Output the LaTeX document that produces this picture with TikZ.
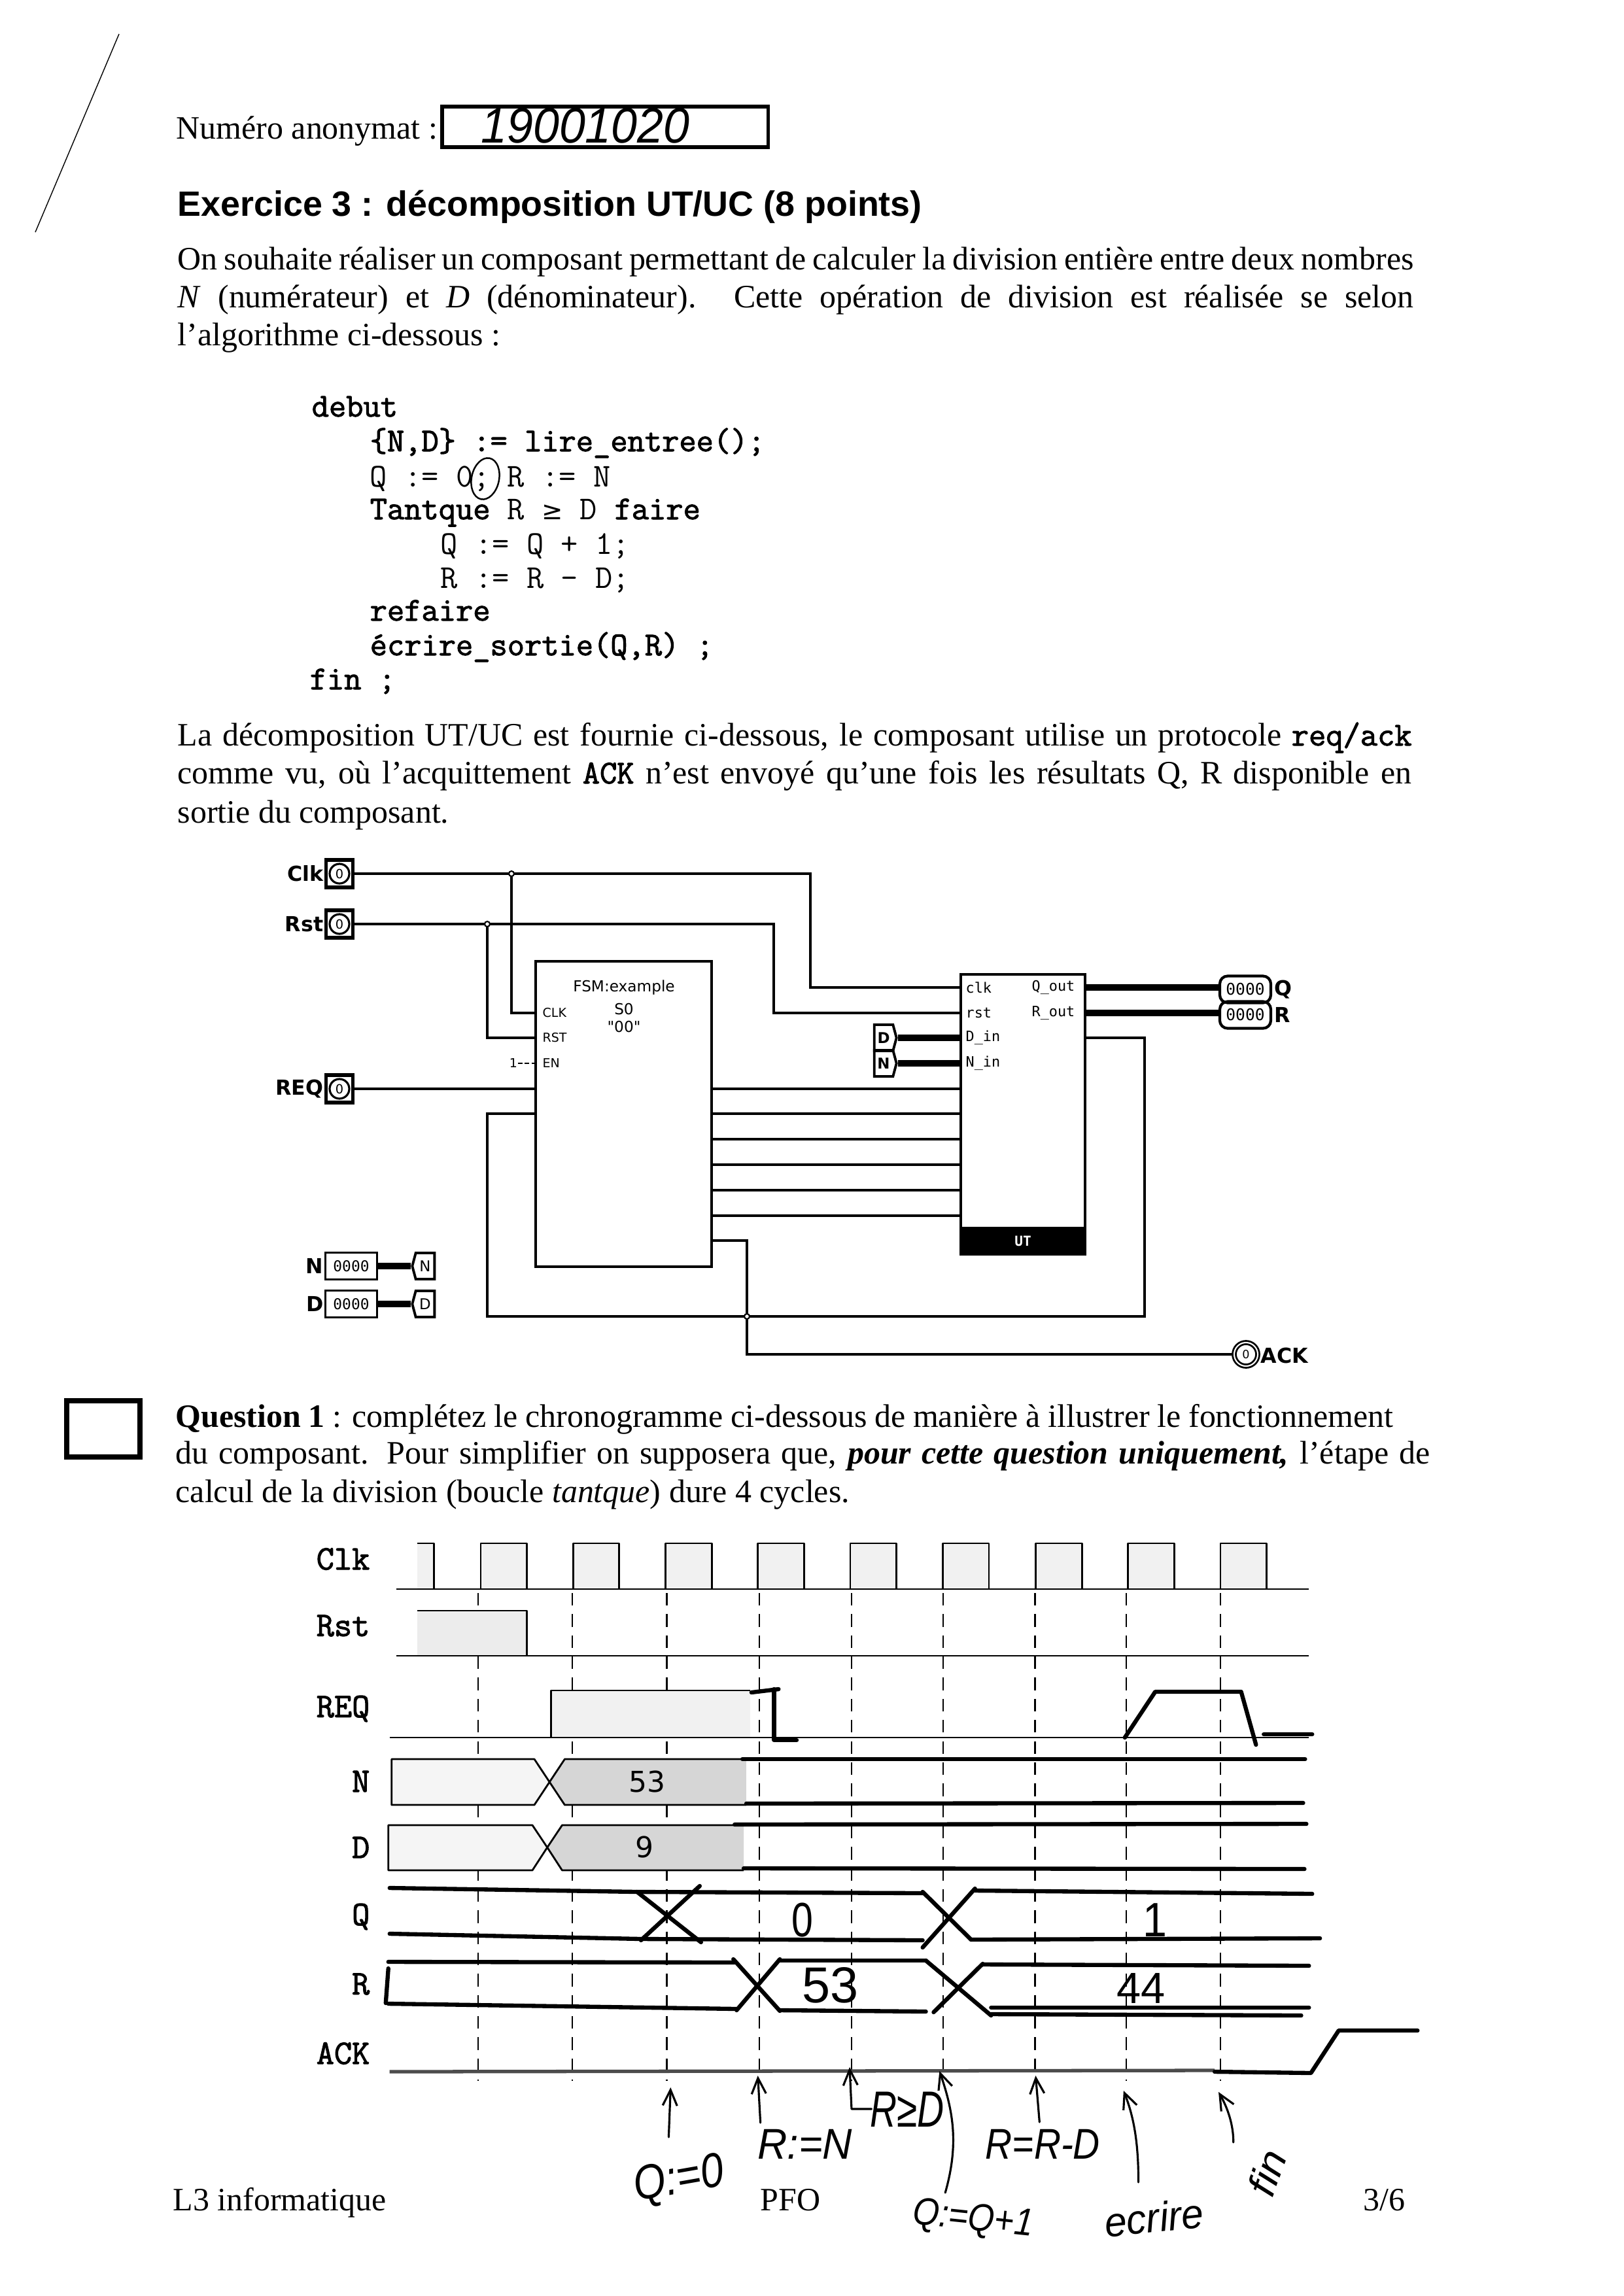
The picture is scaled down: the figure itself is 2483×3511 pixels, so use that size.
\documentclass[tikz,border=0pt]{standalone}
\usepackage{fontspec}
\setmainfont{Liberation Serif}
\setsansfont{Liberation Sans}
\newfontfamily\dvs{DejaVu Sans}
\newfontfamily\dvm{DejaVu Sans Mono}
\newfontfamily\ttb{Latin Modern Mono}[FakeBold=2]
\usetikzlibrary{arrows.meta,shapes.symbols,shapes.geometric}
\newcommand{\fsz}[1]{\fontsize{#1}{#1}\selectfont}
\newcommand{\jl}[2]{\makebox[#1][s]{#2}}
\newcommand{\hwt}[4]{\scalebox{#1}[#2]{\sffamily\itshape\fsz{#3}#4}}
\newcommand{\hwu}[4]{\scalebox{#1}[#2]{\sffamily\fsz{#3}#4}}
\newcommand{\ttm}[1]{{\ttb\fsz{14.5}#1}}
\tikzset{
 body/.style={anchor=base west,inner sep=0pt,font=\rmfamily\fsz{14.2}},
 code/.style={anchor=base west,inner sep=0pt,font=\ttfamily\fsz{14.5}},
 codeb/.style={anchor=base west,inner sep=0pt,font=\ttb\fsz{14.5}},
 wave/.style={line width=0.8pt,line join=round},
 tlab/.style={anchor=east,inner sep=0pt,font=\ttb\fsz{15}},
 hline/.style={line width=1.8pt,line cap=round,line join=round},
 hthin/.style={line width=0.9pt,line cap=round,line join=round},
 harrow/.style={hthin,-{Straight Barb[length=2.4mm,width=2.2mm]}},
 hand/.style={inner sep=0pt},
 wire/.style={line width=1.4pt,line join=miter},
 bus/.style={line width=2.6pt},
 blk/.style={draw,line width=1.3pt,inner sep=0pt,fill=white},
 bit/.style={draw,line width=1.5pt,minimum width=4.1mm,minimum height=4.2mm,inner sep=0pt,
   font=\dvs\fsz{5.5},path picture={\draw[line width=0.9pt] (path picture bounding box.center) circle [radius=1.5mm];}},
 word/.style={draw,line width=1.1pt,minimum width=7.9mm,minimum height=4.1mm,inner sep=0pt,font=\dvm\fsz{6.5}},
 pill/.style={draw,line width=1.2pt,rounded corners=1.2mm,minimum width=7.8mm,minimum height=4.1mm,inner sep=0pt,font=\dvm\fsz{7}},
 tagr/.style={draw,line width=1.1pt,signal,signal to=east,signal pointer angle=150,minimum width=3.4mm,minimum height=4mm,inner xsep=1.2pt,inner ysep=0.5pt,font=\dvs\bfseries\fsz{6.5}},
 tagl/.style={draw,line width=1.1pt,signal,signal to=west,signal pointer angle=150,minimum width=3.4mm,minimum height=4mm,inner xsep=1.2pt,inner ysep=0.5pt,font=\dvs\fsz{6.5}},
 sch/.style={inner sep=0pt,font=\dvs\bfseries\fsz{9}},
 port/.style={inner sep=0pt,font=\dvm\fsz{6.2}},
 fport/.style={inner sep=0pt,font=\dvs\fsz{5.4}},
 ftitle/.style={inner sep=0pt,font=\dvs\fsz{6.6}},
}
\begin{document}
\begin{tikzpicture}[x=0.01cm,y=-0.01cm]
\useasboundingbox (0,0) rectangle (2483,3511);
\fill[white] (0,0) rectangle (2483,3511);
% margin stroke
\draw[line width=0.4pt] (182,52) -- (54,355);
% header
\node[body] (num) at (269,212) {Numéro anonymat :};
\node[draw,line width=1.5pt,minimum width=49.8mm,minimum height=6.2mm,inner sep=0pt] (numbox) at (925,194) {};
\node[hand] (numval) at (895,192) {\hwt{.85}{.9}{24}{19001020}};
\node[anchor=base west,inner sep=0pt,font=\sffamily\bfseries\fsz{15.3}] (title) at (271,330) {Exercice 3 : décomposition UT/UC (8 points)};
% paragraph 1
\node[body] (p1a) at (271,412) {\jl{1889\dimexpr 0.2845pt}{On souhaite réaliser un composant permettant de calculer la division entière entre deux nombres}};
\node[body] (p1b) at (271,470) {\jl{1889\dimexpr 0.2845pt}{\textit{N} (numérateur) et \textit{D} (dénominateur). Cette opération de division est réalisée se selon}};
\node[body] (p1c) at (271,528) {l’algorithme ci-dessous :};
% code
\node[codeb] (c1) at (476,637) {debut};
\node[codeb] (c2) at (565,690) {\{N,D\} := lire\_entree();};
\node[code] (c3) at (565,744) {Q := 0; R := N};
\node[code] (c4) at (565,794) {{\ttb Tantque} R {\dvs\fsz{11}≥} D {\ttb faire}};
\node[code] (c5) at (673,847) {Q := Q + 1;};
\node[code] (c6) at (673,899) {R := R - D;};
\node[codeb] (c7) at (565,949) {refaire};
\node[codeb] (c8) at (565,1002) {écrire\_sortie(Q,R) ;};
\node[codeb] (c9) at (473,1054) {fin ;};
\draw[line width=0.7pt,rotate around={-12:(742,732)}] (742,732) ellipse [x radius=21,y radius=32];
% paragraph 2
\node[body] (p2a) at (271,1140) {\jl{1886\dimexpr 0.2845pt}{La décomposition UT/UC est fournie ci-dessous, le composant utilise un protocole \ttm{req/ack}}};
\node[body] (p2b) at (271,1198) {\jl{1886\dimexpr 0.2845pt}{comme vu, où l’acquittement \ttm{ACK} n’est envoyé qu’une fois les résultats Q, R disponible en}};
\node[body] (p2c) at (271,1258) {sortie du composant.};
% ---- schematic ----
\node[blk,minimum width=26.9mm,minimum height=46.7mm] (fsm) at (953.5,1703.5) {};
\node[blk,minimum width=19mm,minimum height=42.8mm] (ut) at (1564,1704) {};
\node[draw,line width=1pt,fill=black,text=white,minimum width=19mm,minimum height=4mm,inner sep=0pt,font=\dvm\bfseries\fsz{6}] (utband) at (1564,1898) {UT};
\node[ftitle] (ft1) at (954,1510) {FSM:example};
\node[ftitle] (ft2) at (954,1543) {S0};
\node[ftitle] (ft3) at (954,1570) {"00"};
\node[fport,anchor=west] (fclk) at (829,1549) {CLK};
\node[fport,anchor=west] (frst) at (829,1587) {RST};
\node[fport,anchor=west] (fen) at (829,1626) {EN};
\node[fport] (fone) at (785,1626) {1};
\node[port,anchor=west] (uclk) at (1476,1510) {clk};
\node[port,anchor=west] (urst) at (1476,1549) {rst};
\node[port,anchor=west] (udin) at (1476,1587) {D\_in};
\node[port,anchor=west] (unin) at (1476,1626) {N\_in};
\node[port,anchor=east] (uq) at (1644,1510) {Q\_out};
\node[port,anchor=east] (ur) at (1644,1549) {R\_out};
% inputs
\node[bit] (bclk) at (519,1336) {0};
\node[bit] (brst) at (519,1413) {0};
\node[bit] (breq) at (519,1665) {0};
\node[sch,anchor=east] (lclk) at (495,1336) {Clk};
\node[sch,anchor=east] (lrst) at (495,1413) {Rst};
\node[sch,anchor=east] (lreq) at (495,1665) {REQ};
\node[word] (wn) at (537,1936) {0000};
\node[word] (wd) at (537,1994) {0000};
\node[sch,anchor=east] (ln) at (495,1936) {N};
\node[sch,anchor=east] (ld) at (495,1994) {D};
\node[tagl] (tn) at (650,1936) {N};
\node[tagl] (td) at (650,1994) {D};
\node[tagr] (tgd) at (1351,1587) {D};
\node[tagr] (tgn) at (1351,1626) {N};
\node[pill] (pq) at (1904,1513) {0000};
\node[pill] (pr) at (1904,1552) {0000};
\node[sch,anchor=west] (lq) at (1948,1513) {Q};
\node[sch,anchor=west] (lr) at (1948,1552) {R};
\node[circle,draw,double,line width=0.8pt,inner sep=0pt,minimum size=3.6mm,font=\dvs\fsz{5}] (back) at (1905,2071) {0};
\node[sch,anchor=west] (lack) at (1927,2073) {ACK};
% junctions and bends
\coordinate (jclk) at (782,1336);
\coordinate (jrst) at (745,1413);
\coordinate (jfb) at (1142,2013);
\coordinate (fclkp) at (819,1549);
\coordinate (frstp) at (819,1587);
\coordinate (fenp) at (819,1626);
\coordinate (freqp) at (819,1665);
\coordinate (ffbp) at (819,1703);
\coordinate (fack) at (1088,1897);
\coordinate (uclkp) at (1469,1510);
\coordinate (urstp) at (1469,1549);
\coordinate (udp) at (1469,1587);
\coordinate (unp) at (1469,1626);
\coordinate (uqp) at (1659,1510);
\coordinate (urp) at (1659,1549);
\coordinate (ufb) at (1659,1587);
\draw[wire] (bclk.east) -- (jclk) -- (1239,1336) -- (1239,1510) -- (uclkp);
\draw[wire] (brst.east) -- (jrst) -- (1183,1413) -- (1183,1549) -- (urstp);
\draw[wire] (jclk) -- (782,1549) -- (fclkp);
\draw[wire] (jrst) -- (745,1587) -- (frstp);
\draw[line width=0.4pt,dash pattern=on 2pt off 1pt] (fone.east) -- (fenp);
\draw[wire] (breq.east) -- (freqp);
\draw[wire] (ffbp) -- (745,1703) -- (745,2013) -- (jfb) -- (1750,2013) -- (1750,1587) -- (ufb);
\draw[wire] (fack) -- (1142,1897) -- (jfb) -- (1142,2071) -- (back.west);
\foreach \yy in {1665,1703,1742,1781,1820,1859} \draw[wire] (1088,\yy) -- (1469,\yy);
\draw[bus] (tgd.east) -- (udp);
\draw[bus] (tgn.east) -- (unp);
\draw[bus] (wn.east) -- (tn.west);
\draw[bus] (wd.east) -- (td.west);
\draw[bus] (uqp) -- (pq.west |- uqp);
\draw[bus] (urp) -- (pr.west |- urp);
\foreach \pp in {jclk,jrst,jfb} \fill[white,draw=black,line width=0.6pt] (\pp) circle [radius=4];
% question
\node[draw,line width=2.2pt,minimum width=11.2mm,minimum height=8.6mm,inner sep=0pt] (qbox) at (158,2185) {};
\node[body] (q1) at (268,2182) {\jl{1861\dimexpr 0.2845pt}{\textbf{Question 1} : complétez le chronogramme ci-dessous de manière à illustrer le fonctionnement}};
\node[body] (q2) at (268,2238) {\jl{1917\dimexpr 0.2845pt}{du composant. Pour simplifier on supposera que, \textit{\textbf{pour cette question uniquement,}} l’étape de}};
\node[body] (q3) at (268,2297) {calcul de la division (boucle \textit{tantque}) dure 4 cycles.};
% labels
\node[tlab] (tclk) at (566,2384) {Clk};
\node[tlab] (trst) at (566,2486) {Rst};
\node[tlab] (treq) at (566,2613) {REQ};
\node[tlab] (tn2) at (566,2724) {N};
\node[tlab] (td2) at (566,2825) {D};
\node[tlab] (tq) at (566,2931) {Q};
\node[tlab] (tr) at (566,3034) {R};
\node[tlab] (tack) at (566,3140) {ACK};
% ---- chronogram ----
\begin{scope}[xshift=0.6mm,xscale=0.9878]
\foreach \xx in {734,880,1026,1169,1312,1454,1596,1737,1883}
  \draw[line width=0.6pt,dash pattern=on 5.5pt off 3.7pt] (\xx,2436) -- (\xx,3182);
% Clk
\foreach \xx in {738,881,1024,1167,1310,1453,1597,1740,1883}
  \fill[gray!11] (\xx,2360) rectangle +(71.5,70);
\fill[gray!11] (640,2360) rectangle (666,2430);
\draw[line width=0.5pt] (607,2430) -- (2020,2430);
\draw[wave] (640,2360) -- (666,2360) -- (666,2430)
  \foreach \xx in {738,881,1024,1167,1310,1453,1597,1740,1883} { -- (\xx,2430) -- (\xx,2360) -- (\xx+71.5,2360) -- (\xx+71.5,2430)} -- (2020,2430);
% Rst
\fill[gray!15] (640,2463) rectangle (809,2532);
\draw[line width=0.5pt] (607,2532) -- (2020,2532);
\draw[wave] (640,2463) -- (809,2463) -- (809,2532);
% REQ
\fill[gray!11] (847,2585) rectangle (1155,2657);
\draw[line width=0.5pt] (597,2657) -- (2020,2657);
\draw[wave] (847,2657) -- (847,2585) -- (1155,2585);
\draw[hline] (1157,2588) -- (1199,2583);
\draw[hline] (1192,2583) -- (1192,2661) -- (1227,2661);
\draw[hline] (1735,2657) -- (1782,2587) -- (1915,2587) -- (1938,2668);
\draw[hline] (1950,2652) -- (2025,2652);
% N
\filldraw[wave,fill=gray!8] (600,2690) -- (821,2690) -- (844.5,2725) -- (821,2760) -- (600,2760) -- cycle;
\fill[gray!32] (868,2690) -- (1149,2690) -- (1149,2760) -- (868,2760) -- (844.5,2725) -- cycle;
\draw[wave] (1149,2690) -- (868,2690) -- (844.5,2725) -- (868,2760) -- (1149,2760);
\draw[hline] (1143,2690) -- (2014,2690);
\draw[hline] (1149,2758) -- (2011,2757);
\node[inner sep=0pt,font=\dvs\fsz{12.5}] (vn) at (996,2724) {53};
% D
\filldraw[wave,fill=gray!8] (595,2791) -- (818,2791) -- (841,2825) -- (818,2860) -- (595,2860) -- cycle;
\fill[gray!32] (864,2791) -- (1145,2791) -- (1145,2860) -- (864,2860) -- (841,2825) -- cycle;
\draw[wave] (1145,2791) -- (864,2791) -- (841,2825) -- (864,2860) -- (1145,2860);
\draw[hline] (1131,2790) -- (2016,2789);
\draw[hline] (1145,2857) -- (2013,2858);
\node[inner sep=0pt,font=\dvs\fsz{12.5}] (vd) at (992,2824) {9};
% Q
\draw[hline] (597,2887) -- (980,2893) -- (1422,2895);
\draw[hline] (597,2957) -- (986,2965) -- (1422,2967);
\draw[hline] (980,2893) -- (1079,2970);
\draw[hline] (986,2967) -- (1077,2884);
\draw[hline] (1422,2893) -- (1497,2966);
\draw[hline] (1422,2978) -- (1503,2888);
\draw[hline] (1503,2891) -- (2025,2896);
\draw[hline] (1497,2966) -- (2037,2964);
% R
\draw[hline] (595,3000) -- (1131,3001);
\draw[hline] (595,3064) -- (1134,3072);
\draw[hline] (595,3010) -- (591,3063);
\draw[hline] (1129,2996) -- (1201,3075);
\draw[hline] (1134,3074) -- (1201,2996);
\draw[hline] (1201,2998) -- (1427,2998);
\draw[hline] (1201,3074) -- (1427,3076);
\draw[hline] (1427,2998) -- (1528,3082);
\draw[hline] (1439,3077) -- (1515,3003);
\draw[hline] (1515,3004) -- (2020,3006);
\draw[hline] (1528,3070) -- (2020,3070);
\draw[hline] (1528,3080) -- (2008,3082);
% ACK
\draw[line width=1.5pt,black!70] (597,3168) -- (1874,3166);
\draw[hline] (1874,3168) -- (2023,3170) -- (2066,3105) -- (2188,3105);
% handwritten values
\node[hand] (h0) at (1236,2936) {\hwu{.8}{1}{21}{0}};
\node[hand] (h1) at (1782,2936) {\hwu{.9}{1}{21}{1}};
\node[hand] (h53) at (1279,3036) {\hwu{1}{1}{22}{53}};
\node[hand] (h44) at (1760,3040) {\hwu{1}{1}{19}{44}};
% handwritten arrows
\coordinate (a1s) at (1029,3268); \coordinate (a1e) at (1032,3192);
\coordinate (a2s) at (1171,3246); \coordinate (a2e) at (1167,3174);
\coordinate (a5s) at (1603,3245); \coordinate (a5e) at (1597,3174);
\draw[harrow] (a1s) -- (a1e);
\draw[harrow] (a2s) -- (a2e);
\draw[harrow] (1343,3225) -- (1312,3225) -- (1309,3161);
\draw[harrow] (1457,3353) .. controls (1478,3280) and (1470,3230) .. (1448,3167);
\draw[harrow] (a5s) -- (a5e);
\draw[harrow] (1756,3337) .. controls (1756,3280) and (1750,3240) .. (1733,3197);
\draw[harrow] (1903,3276) .. controls (1903,3250) and (1895,3225) .. (1880,3199);
% handwritten notes
\node[hand,rotate=10] (n1) at (1045,3335) {\hwt{1.2}{1.4}{15}{Q:=0}};
\node[hand] (n2) at (1240,3279) {\hwt{1.05}{1.1}{17}{R:=N}};
\node[hand] (n3) at (1398,3226) {\hwt{.95}{1.3}{17}{R≥D}};
\node[hand] (n4) at (1608,3279) {\hwt{.95}{1.1}{17}{R=R-D}};
\node[hand,rotate=-6] (n5) at (1500,3395) {\hwt{1.05}{1.2}{14}{Q:=Q+1}};
\node[hand,rotate=6] (n6) at (1780,3391) {\hwt{1.15}{1.2}{15}{ecrire}};
\node[hand,rotate=70] (n7) at (1955,3322) {\hwt{1.1}{1}{17}{fin}};
\end{scope}
% footer
\node[body] (f1) at (264,3380) {L3 informatique};
\node[body] (f2) at (1162,3380) {PFO};
\node[body] (f3) at (2084,3380) {3/6};
\end{tikzpicture}
\end{document}
